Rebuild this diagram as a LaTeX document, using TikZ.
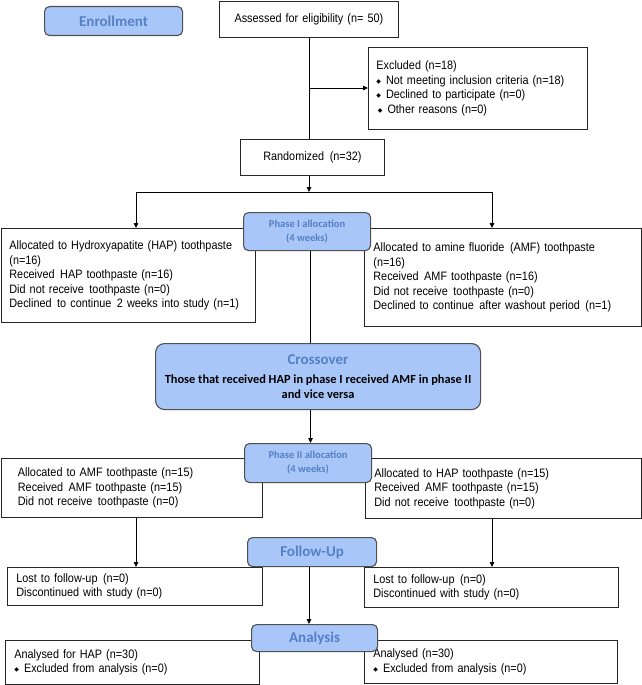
\documentclass[tikz,border=0pt]{standalone}
\usepackage{fontspec}
\setmainfont{Liberation Sans}[FakeStretch=0.89]
\newfontfamily\hdrfont{Carlito}
\newfontfamily\symfont{DejaVu Sans}
\usetikzlibrary{arrows.meta}
\definecolor{bfill}{RGB}{168,198,248}
\definecolor{btext}{RGB}{84,128,196}
\definecolor{bdraw}{RGB}{80,80,80}
\newcommand{\bodysize}{\fontsize{12.2}{14.5}\selectfont}
\newcommand{\bul}{\raisebox{1pt}{\symfont\fontsize{6}{6}\selectfont ◆}\hspace{5pt}}
\newcommand{\xs}{\hspace{1.5pt}}
\begin{document}
\begin{tikzpicture}[x=1pt,y=-1pt,
  tbox/.style={draw=black!85, line width=0.8pt, fill=white, anchor=north west, align=left, inner xsep=9pt, inner ysep=0pt, font=\bodysize},
  bbox/.style={draw=bdraw, line width=1.1pt, fill=bfill, rounded corners=5pt, align=center, inner sep=0pt, text=btext, anchor=north west},
  hdr/.style={font=\hdrfont\bfseries\fontsize{15}{15}\selectfont},
  phase/.style={font=\hdrfont\bfseries\fontsize{10.5}{14}\selectfont},
  arr/.style={-{Triangle[length=5pt,width=4.5pt]}, line width=0.8pt},
  ln/.style={line width=0.8pt}]
\fill[white] (0,0) rectangle (642,685);
\useasboundingbox (0,0) rectangle (642,685);

% plain boxes
\node[tbox, text width=161pt, minimum height=36pt, align=center] (ass) at (219,1) {Assessed for eligibility (n= 50)};
\node[tbox, inner xsep=8pt, text width=203pt, minimum height=82pt] (exc) at (368,47)
 {Excluded (n=18)\\ \bul Not meeting inclusion criteria (n=18)\\ \bul Declined to participate (n=0)\\ \hspace{1.5pt}\bul Other reasons (n=0)};
\node[tbox, text width=126pt, minimum height=36pt, align=center] (rand) at (240,139) {Randomized\xs{} (n=32)};

\node[tbox, inner xsep=8.5pt, text width=237.5pt, minimum height=94pt] (a1) at (0.5,228)
 {Allocated to Hydroxyapatite (HAP) toothpaste\\ (n=16)\\ Received\xs{} HAP toothpaste (n=16)\\ Did not receive\xs{} toothpaste (n=0)\\ Declined\xs{} to continue\xs{} 2 weeks into study (n=1)};
\node[tbox, text width=259pt, minimum height=98pt] (b1) at (364,228)
 {Allocated to amine fluoride\xs{} (AMF) toothpaste\\ (n=16)\\ Received\xs{} AMF toothpaste (n=16)\\ Did not receive\xs{} toothpaste (n=0)\\ Declined to continue\xs{} after washout period\xs{} (n=1)};

\node[tbox, inner xsep=17pt, text width=227.5pt, minimum height=59pt] (a2) at (0.5,458)
 {Allocated to AMF toothpaste (n=15)\\ Received\xs{} AMF toothpaste (n=15)\\ Did not receive\xs{} toothpaste (n=0)};
\node[tbox, text width=258pt, minimum height=60pt] (b2) at (365,458)
 {Allocated to HAP toothpaste (n=15)\\ Received\xs{} AMF toothpaste (n=15)\\ Did not receive\xs{} toothpaste (n=0)};

\node[tbox, text width=237pt, minimum height=38pt] (lost1) at (7,567)
 {Lost to follow-up\xs{} (n=0)\\ Discontinued with study (n=0)};
\node[tbox, text width=236pt, minimum height=40pt] (lost2) at (364,567)
 {Lost to follow-up\xs{} (n=0)\\ Discontinued with study (n=0)};

\node[tbox, text width=236pt, minimum height=44pt] (an1) at (5,640)
 {Analysed for HAP (n=30)\\ \bul Excluded from analysis (n=0)};
\node[tbox, text width=235pt, minimum height=43pt] (an2) at (364,640)
 {Analysed (n=30)\\ \bul Excluded from analysis (n=0)};

% blue boxes
\node[bbox, hdr, minimum width=138pt, minimum height=29pt] (enr) at (44,6) {Enrollment};
\node[bbox, phase, minimum width=127pt, minimum height=38pt] (p1) at (243,212) {Phase I allocation\\(4 weeks)};
\node[bbox, rounded corners=9pt, minimum width=325pt, minimum height=66pt, text=black,
  font=\hdrfont\bfseries\fontsize{12.4}{15}\selectfont] (cross) at (155,343)
 {{\color{btext}\fontsize{15}{15}\selectfont Crossover}\\[4pt] Those that received HAP in phase I received AMF in phase II\\ and vice versa};
\node[bbox, phase, minimum width=127pt, minimum height=39pt] (p2) at (244,443) {Phase II allocation\\(4 weeks)};
\node[bbox, hdr, minimum width=129pt, minimum height=29pt] (fu) at (247,537) {Follow-Up};
\node[bbox, hdr, minimum width=126pt, minimum height=27pt] (ana) at (251,624) {Analysis};

% connectors
\coordinate (c1) at (309,88);
\coordinate (split) at (309,192);
\coordinate (sl) at (136,192);
\coordinate (sr) at (492,192);
\coordinate (mid) at (310.5,0);
\coordinate (mid2) at (309,0);
\draw[ln] (ass.south -| c1) -- (rand.north -| c1);
\draw[arr] (c1) -- (c1 -| exc.west);
\draw[arr] (rand.south -| split) -- (split);
\draw[ln] (sl) -- (sr);
\draw[arr] (sl) -- (sl |- a1.north);
\draw[arr] (sr) -- (sr |- b1.north);
\draw[ln] (p1.south -| mid) -- (cross.north -| mid);
\draw[arr] (cross.south -| mid) -- (p2.north -| mid);
\draw[arr] (a2.south -| sl) -- (lost1.north -| sl);
\draw[arr] (b2.south -| sr) -- (lost2.north -| sr);
\draw[arr] (fu.south -| mid2) -- (ana.north -| mid2);
\end{tikzpicture}
\end{document}
